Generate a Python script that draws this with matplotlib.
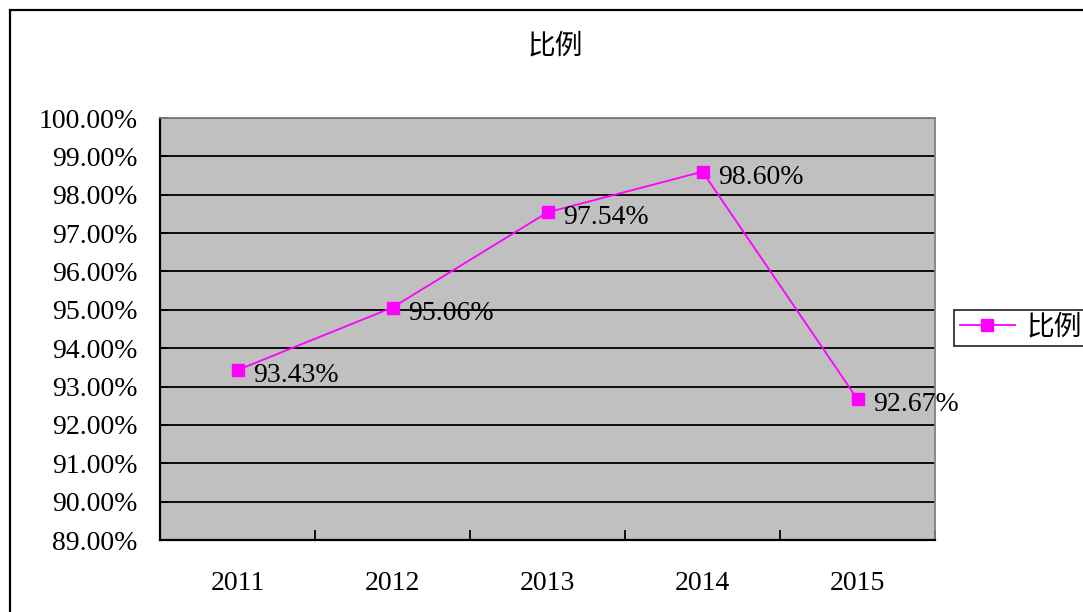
import matplotlib
matplotlib.use("Agg")
import matplotlib.pyplot as plt
from matplotlib.patches import Rectangle

plt.rcParams['font.family'] = ['Liberation Serif', 'Noto Sans CJK SC']

years = ['2011', '2012', '2013', '2014', '2015']
ratio = [93.43, 95.06, 97.54, 98.60, 92.67]
y_ticks = [89, 90, 91, 92, 93, 94, 95, 96, 97, 98, 99, 100]
series_name = '比例'

fig = plt.figure(figsize=(10.83, 6.12), dpi=100)
fig.patch.set_facecolor('white')

# chart border (runs off the right and bottom edge like the original)
fig.patches.append(Rectangle((10 / 1083, -0.1), 1.2, 1 - 10 / 612 + 0.1,
                             transform=fig.transFigure, fill=False,
                             edgecolor='black', linewidth=1.6))

ax = fig.add_axes([160 / 1083, 72 / 612, 775 / 1083, 422 / 612])
ax.set_facecolor('#C0C0C0')

x = list(range(len(years)))
line, = ax.plot(x, ratio, color='#FF00FF', linewidth=1.3, marker='s',
                markersize=8, markerfacecolor='#FF00FF',
                markeredgecolor='#FF00FF', label=series_name, zorder=3)

for xi, v in zip(x, ratio):
    ax.annotate(f'{v:.2f}%', (xi, v), xytext=(11, -4),
                textcoords='offset points', ha='left', va='center',
                fontsize=20, color='black')

ax.set_xlim(-0.5, len(years) - 0.5)
ax.set_ylim(89, 100)
ax.set_yticks(y_ticks)
ax.set_yticklabels([f'{t:.2f}%' for t in y_ticks], fontsize=20)
ax.yaxis.grid(True, color='black', linewidth=1.3)
ax.set_axisbelow(True)

ax.set_xticks([i + 0.5 for i in range(-1, len(years))])
ax.set_xticklabels([])
ax.set_xticks(x, minor=True)
ax.set_xticklabels(years, minor=True, fontsize=20)
ax.tick_params(axis='x', which='major', direction='in', length=7,
               width=1.3, color='black')
ax.tick_params(axis='x', which='minor', length=0, pad=22)
ax.tick_params(axis='y', direction='in', length=6, width=1.3,
               color='black', pad=16)

ax.spines['left'].set_color('black')
ax.spines['bottom'].set_color('black')
ax.spines['left'].set_linewidth(1.6)
ax.spines['bottom'].set_linewidth(1.6)
ax.spines['top'].set_color('#808080')
ax.spines['right'].set_color('#808080')
ax.spines['top'].set_linewidth(1.3)
ax.spines['right'].set_linewidth(1.3)

fig.text(555 / 1083, 1 - 47 / 612, '比例', ha='center', va='center',
         fontsize=20)

leg = fig.legend(handles=[line], loc='center left',
                 bbox_to_anchor=(954 / 1083, 1 - 328 / 612),
                 fontsize=20, frameon=True, fancybox=False,
                 borderpad=0.2, handlelength=2.0, handletextpad=0.4,
                 borderaxespad=0)
leg.get_frame().set_edgecolor('black')
leg.get_frame().set_linewidth(1.3)

fig.savefig('out.png', dpi=100)
